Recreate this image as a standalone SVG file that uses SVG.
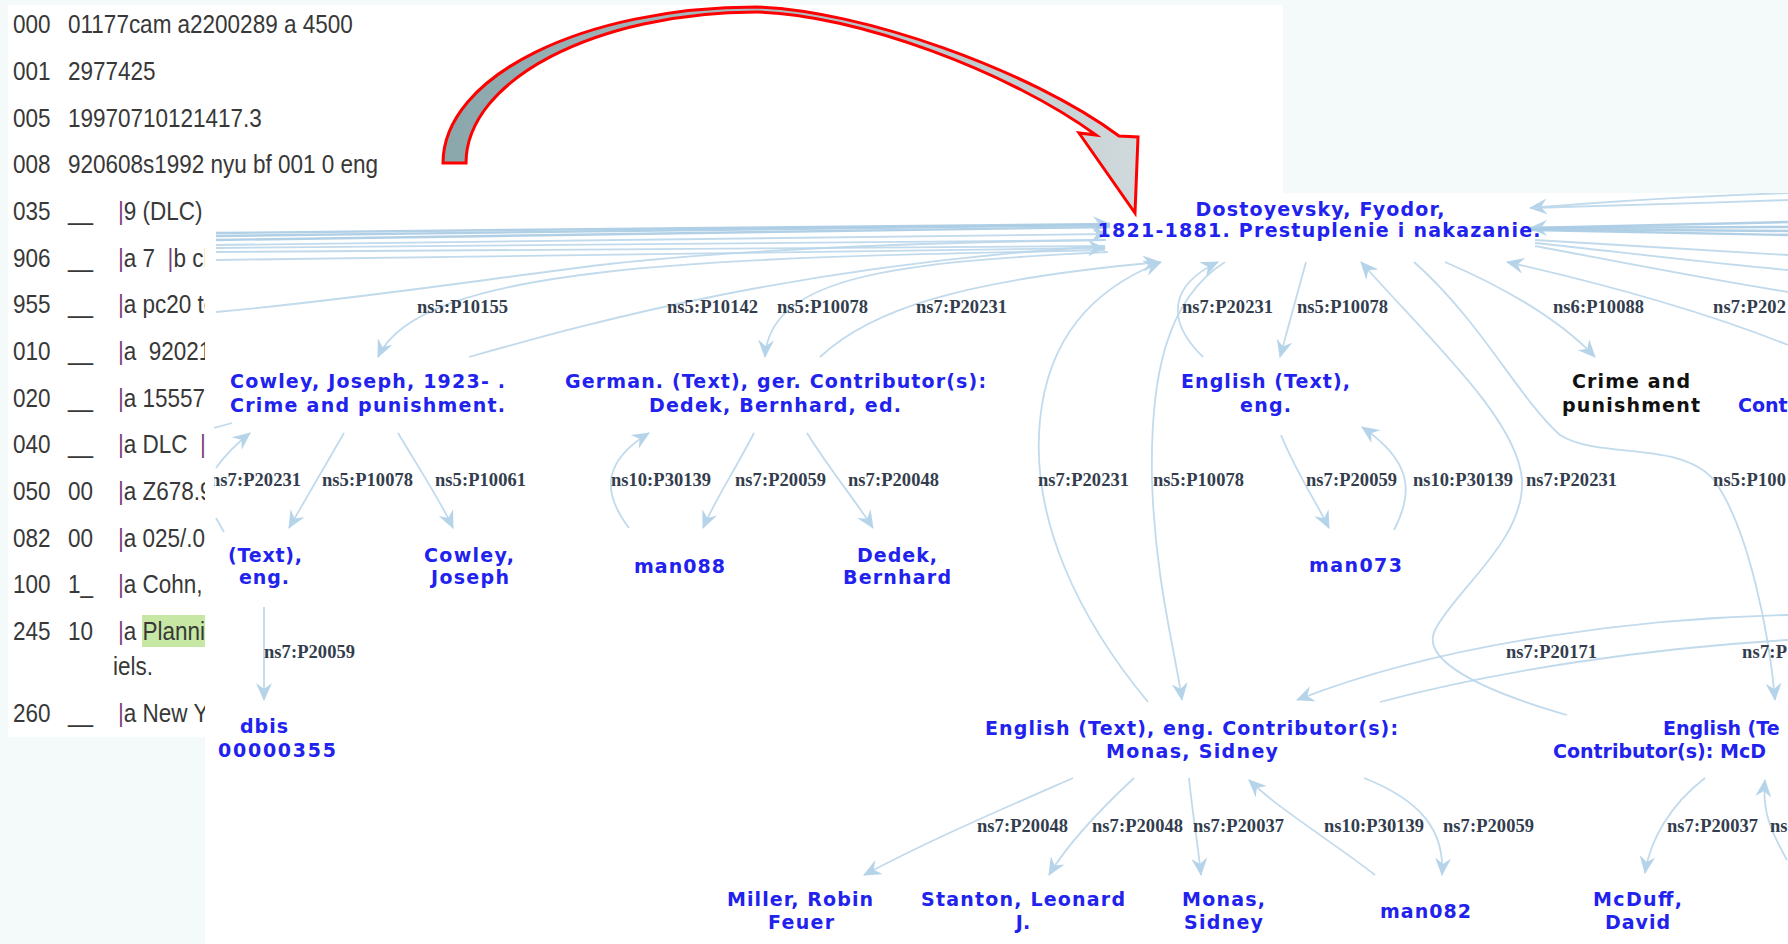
<svg xmlns="http://www.w3.org/2000/svg" width="1788" height="944" viewBox="0 0 1788 944">
<defs>
<style>
.marc{font-family:"Liberation Sans",Arial,sans-serif;font-size:25px;fill:#383838}
.bar{fill:#7b3f7b}
.nd{font-family:"DejaVu Sans","Verdana",sans-serif;font-weight:bold;font-size:19px;fill:#2222ee;text-anchor:middle}
.ndl{font-family:"DejaVu Sans","Verdana",sans-serif;font-weight:bold;font-size:19px;fill:#2222ee}
.blk{fill:#111111}
.el{font-family:"Liberation Serif","Times New Roman",serif;font-weight:bold;font-size:18.5px;fill:#333d4d}
.e{fill:none;stroke:#bad6ea;stroke-width:1.8;stroke-opacity:0.9}
.ea{fill:none;stroke:#bad6ea;stroke-width:1.8;stroke-opacity:0.9;marker-end:url(#ah)}
.eb{fill:none;stroke:#a9cbe3;stroke-width:2.4;stroke-opacity:0.9}
</style>
<marker id="ah" markerUnits="userSpaceOnUse" markerWidth="18" markerHeight="16" viewBox="0 0 18 16" refX="17" refY="8" orient="auto">
<path d="M0,0 L18,8 L0,16 L6,8 Z" fill="#b6d4e9"/>
</marker>
<linearGradient id="rg" x1="443" y1="0" x2="1138" y2="0" gradientUnits="userSpaceOnUse">
<stop offset="0" stop-color="#8aa7ac"/>
<stop offset="1" stop-color="#d0d9db"/>
</linearGradient>
<clipPath id="mclip"><path d="M8,5 H1283 V193 H205 V737 H8 Z"/></clipPath>
<clipPath id="gclip"><rect x="214" y="193" width="1574" height="751"/></clipPath>
</defs>

<rect x="0" y="0" width="1788" height="944" fill="#f4f9fa"/>
<path d="M8,5 H1283 V193 H1788 V944 H205 V737 H8 Z" fill="#ffffff"/>

<g id="marc-record" clip-path="url(#mclip)">
<rect x="142" y="615" width="63" height="32" fill="#c6e8a4"/>
<g transform="scale(0.9,1)">
<text class="marc" x="14.4" y="33">000</text><text class="marc" x="75.6" y="33">01177cam a2200289 a 4500</text>
<text class="marc" x="14.4" y="80">001</text><text class="marc" x="75.6" y="80">2977425</text>
<text class="marc" x="14.4" y="127">005</text><text class="marc" x="75.6" y="127">19970710121417.3</text>
<text class="marc" x="14.4" y="173">008</text><text class="marc" x="75.6" y="173">920608s1992 nyu bf 001 0 eng</text>
<text class="marc" x="14.4" y="220">035</text><text class="marc" x="75.6" y="220">__</text><text class="marc" x="131.1" y="220"><tspan class="bar">|</tspan>9 (DLC)</text>
<text class="marc" x="14.4" y="267">906</text><text class="marc" x="75.6" y="267">__</text><text class="marc" x="131.1" y="267" xml:space="preserve"><tspan class="bar">|</tspan>a 7  <tspan class="bar">|</tspan>b cbc</text>
<text class="marc" x="14.4" y="313">955</text><text class="marc" x="75.6" y="313">__</text><text class="marc" x="131.1" y="313"><tspan class="bar">|</tspan>a pc20 to</text>
<text class="marc" x="14.4" y="360">010</text><text class="marc" x="75.6" y="360">__</text><text class="marc" x="131.1" y="360" xml:space="preserve"><tspan class="bar">|</tspan>a  92021</text>
<text class="marc" x="14.4" y="407">020</text><text class="marc" x="75.6" y="407">__</text><text class="marc" x="131.1" y="407"><tspan class="bar">|</tspan>a 15557</text>
<text class="marc" x="14.4" y="453">040</text><text class="marc" x="75.6" y="453">__</text><text class="marc" x="131.1" y="453" xml:space="preserve"><tspan class="bar">|</tspan>a DLC  <tspan class="bar">|</tspan>c</text>
<text class="marc" x="14.4" y="500">050</text><text class="marc" x="75.6" y="500">00</text><text class="marc" x="131.1" y="500"><tspan class="bar">|</tspan>a Z678.9</text>
<text class="marc" x="14.4" y="547">082</text><text class="marc" x="75.6" y="547">00</text><text class="marc" x="131.1" y="547"><tspan class="bar">|</tspan>a 025/.0</text>
<text class="marc" x="14.4" y="593">100</text><text class="marc" x="75.6" y="593">1_</text><text class="marc" x="131.1" y="593"><tspan class="bar">|</tspan>a Cohn,</text>
<text class="marc" x="14.4" y="640">245</text><text class="marc" x="75.6" y="640">10</text><text class="marc" x="131.1" y="640"><tspan class="bar">|</tspan>a Planni</text>
<text class="marc" x="125.6" y="675">iels.</text>
<text class="marc" x="14.4" y="722">260</text><text class="marc" x="75.6" y="722">__</text><text class="marc" x="131.1" y="722"><tspan class="bar">|</tspan>a New Y</text>
</g>
</g>

<g id="graph" clip-path="url(#gclip)">
<g id="connectors">
<path class="eb" d="M216,233 C600,229 900,226 1110,224" marker-end="url(#ah)"/>
<path class="eb" d="M216,236 C600,231 900,227 1110,225"/>
<path class="eb" d="M216,240 C600,234 900,229 1110,227"/>
<path class="e" d="M216,245 C600,240 900,236 1108,234" marker-end="url(#ah)"/>
<path class="e" d="M216,248 C600,244 900,240 1106,240"/>
<path class="e" d="M216,252 C600,249 900,246 1105,246"/>
<path class="e" d="M216,260 C600,254 900,250 1105,248" marker-end="url(#ah)"/>
<path class="e" d="M216,312 C350,300 480,280 600,265 C750,248 950,242 1105,240"/>
<path class="ea" d="M1105,250 C700,258 420,265 378,357"/>
<path class="e" d="M469,357 C600,320 800,265 1105,246"/>
<path class="ea" d="M1108,252 C900,262 770,275 765,357"/>
<path class="ea" d="M820,357 C870,310 960,280 1160,262"/>
<path class="ea" d="M1306,262 L1280,357"/>
<path class="ea" d="M1203,357 C1165,320 1170,285 1218,262"/>
<path class="ea" d="M1445,262 C1510,290 1560,320 1595,357"/>
<path class="ea" d="M1788,345 C1700,310 1600,283 1507,262"/>
<path class="e" d="M1788,193 C1700,196 1600,202 1530,208" marker-end="url(#ah)"/>
<path class="e" d="M1788,200 C1700,203 1600,206 1530,208"/>
<path class="eb" d="M1788,222 L1530,228"/>
<path class="eb" d="M1788,227 L1530,228" marker-end="url(#ah)"/>
<path class="eb" d="M1788,231 L1530,229"/>
<path class="eb" d="M1788,235 L1530,230"/>
<path class="e" d="M1535,240 C1620,245 1700,250 1788,255"/>
<path class="e" d="M1535,243 C1620,252 1700,262 1788,270"/>
<path class="e" d="M1535,246 C1620,262 1700,278 1788,292"/>
<path class="ea" d="M1567,715 C1480,690 1420,660 1435,630 C1455,590 1525,540 1522,480 C1518,420 1430,340 1361,262"/>
<path class="ea" d="M1414,262 C1480,320 1520,400 1560,435 C1600,460 1680,440 1714,480 C1750,530 1770,640 1775,700"/>
<path class="ea" d="M1225,262 C1165,300 1150,380 1152,480 C1155,580 1175,650 1182,700"/>
<path class="ea" d="M1148,702 C1080,620 1030,520 1040,420 C1048,340 1090,290 1161,262"/>
<path class="ea" d="M1788,615 C1650,618 1450,640 1297,700"/>
<path class="e" d="M1380,702 C1500,670 1650,648 1788,640"/>
<path class="ea" d="M1073,778 C1000,810 930,840 864,875"/>
<path class="ea" d="M1134,778 C1105,805 1070,840 1049,875"/>
<path class="ea" d="M1189,778 C1192,810 1198,845 1201,875"/>
<path class="ea" d="M1375,875 C1330,840 1280,810 1249,780"/>
<path class="ea" d="M1364,778 C1420,800 1445,830 1442,875"/>
<path class="ea" d="M1705,778 C1670,805 1650,840 1645,873"/>
<path class="ea" d="M1787,860 C1770,830 1762,810 1765,780"/>
<path class="ea" d="M344,433 L289,528"/>
<path class="ea" d="M398,433 C420,470 440,500 453,528"/>
<path class="ea" d="M216,468 C225,455 235,445 250,433"/>
<path class="e" d="M214,428 L232,423"/>
<path class="e" d="M216,518 L224,532"/>
<path class="ea" d="M754,433 C735,470 715,500 703,528"/>
<path class="ea" d="M807,433 C830,470 855,500 873,528"/>
<path class="ea" d="M629,528 C600,490 605,460 649,433"/>
<path class="ea" d="M1281,435 C1295,470 1315,500 1329,528"/>
<path class="ea" d="M1394,530 C1415,490 1410,460 1362,427"/>
<path class="ea" d="M264,607 L264,700"/>
</g>

<g id="edge-labels">
<text class="el" x="417" y="313" textLength="91">ns5:P10155</text>
<text class="el" x="667" y="313" textLength="91">ns5:P10142</text>
<text class="el" x="777" y="313" textLength="91">ns5:P10078</text>
<text class="el" x="916" y="313" textLength="91">ns7:P20231</text>
<text class="el" x="1182" y="313" textLength="91">ns7:P20231</text>
<text class="el" x="1297" y="313" textLength="91">ns5:P10078</text>
<text class="el" x="1553" y="313" textLength="91">ns6:P10088</text>
<text class="el" x="1713" y="313" textLength="73">ns7:P202</text>
<text class="el" x="210" y="486" textLength="91">ns7:P20231</text>
<text class="el" x="322" y="486" textLength="91">ns5:P10078</text>
<text class="el" x="435" y="486" textLength="91">ns5:P10061</text>
<text class="el" x="611" y="486" textLength="100">ns10:P30139</text>
<text class="el" x="735" y="486" textLength="91">ns7:P20059</text>
<text class="el" x="848" y="486" textLength="91">ns7:P20048</text>
<text class="el" x="1038" y="486" textLength="91">ns7:P20231</text>
<text class="el" x="1153" y="486" textLength="91">ns5:P10078</text>
<text class="el" x="1306" y="486" textLength="91">ns7:P20059</text>
<text class="el" x="1413" y="486" textLength="100">ns10:P30139</text>
<text class="el" x="1526" y="486" textLength="91">ns7:P20231</text>
<text class="el" x="1713" y="486" textLength="73">ns5:P100</text>
<text class="el" x="264" y="658" textLength="91">ns7:P20059</text>
<text class="el" x="1506" y="658" textLength="91">ns7:P20171</text>
<text class="el" x="1742" y="658" textLength="45">ns7:P</text>
<text class="el" x="977" y="832" textLength="91">ns7:P20048</text>
<text class="el" x="1092" y="832" textLength="91">ns7:P20048</text>
<text class="el" x="1193" y="832" textLength="91">ns7:P20037</text>
<text class="el" x="1324" y="832" textLength="100">ns10:P30139</text>
<text class="el" x="1443" y="832" textLength="91">ns7:P20059</text>
<text class="el" x="1667" y="832" textLength="91">ns7:P20037</text>
<text class="el" x="1770" y="832">ns</text>
</g>

<g id="node-dostoyevsky">
<text class="nd" x="1320" y="216" textLength="249" lengthAdjust="spacing">Dostoyevsky, Fyodor,</text>
<text class="nd" x="1319" y="237" textLength="443" lengthAdjust="spacing">1821-1881. Prestuplenie i nakazanie.</text>
</g>
<g id="node-cowley-crime">
<text class="nd" x="367.5" y="388" textLength="275" lengthAdjust="spacing">Cowley, Joseph, 1923- .</text>
<text class="nd" x="367.5" y="412" textLength="275" lengthAdjust="spacing">Crime and punishment.</text>
</g>
<g id="node-german">
<text class="nd" x="775.5" y="388" textLength="421" lengthAdjust="spacing">German. (Text), ger. Contributor(s):</text>
<text class="nd" x="775" y="412" textLength="252" lengthAdjust="spacing">Dedek, Bernhard, ed.</text>
</g>
<g id="node-english">
<text class="nd" x="1265.5" y="388" textLength="169" lengthAdjust="spacing">English (Text),</text>
<text class="nd" x="1265.5" y="412" textLength="51" lengthAdjust="spacing">eng.</text>
</g>
<g id="node-crime">
<text class="nd blk" x="1631" y="388" textLength="118" lengthAdjust="spacing">Crime and</text>
<text class="nd blk" x="1631" y="412" textLength="138" lengthAdjust="spacing">punishment</text>
</g>
<g id="node-cont">
<text class="ndl" x="1738" y="412">Cont</text>
</g>
<g id="node-text-eng">
<text class="nd" x="265" y="562" textLength="74" lengthAdjust="spacing">(Text),</text>
<text class="nd" x="264" y="584" textLength="50" lengthAdjust="spacing">eng.</text>
</g>
<g id="node-cowley-joseph">
<text class="nd" x="469" y="562" textLength="90" lengthAdjust="spacing">Cowley,</text>
<text class="nd" x="470" y="584" textLength="78" lengthAdjust="spacing">Joseph</text>
</g>
<g id="node-man088">
<text class="nd" x="679.5" y="573" textLength="91" lengthAdjust="spacing">man088</text>
</g>
<g id="node-dedek">
<text class="nd" x="897" y="562" textLength="80" lengthAdjust="spacing">Dedek,</text>
<text class="nd" x="897" y="584" textLength="108" lengthAdjust="spacing">Bernhard</text>
</g>
<g id="node-man073">
<text class="nd" x="1355.5" y="572" textLength="93" lengthAdjust="spacing">man073</text>
</g>
<g id="node-dbis">
<text class="nd" x="264" y="733" textLength="48" lengthAdjust="spacing">dbis</text>
<text class="ndl" x="218" y="757" textLength="118" lengthAdjust="spacing">00000355</text>
</g>
<g id="node-monas-work">
<text class="nd" x="1191.5" y="735" textLength="413" lengthAdjust="spacing">English (Text), eng. Contributor(s):</text>
<text class="nd" x="1192" y="758" textLength="172" lengthAdjust="spacing">Monas, Sidney</text>
</g>
<g id="node-mcduff-work">
<text class="ndl" x="1663" y="735">English (Te</text>
<text class="ndl" x="1553" y="758">Contributor(s): McD</text>
</g>
<g id="node-miller">
<text class="nd" x="800" y="906" textLength="146" lengthAdjust="spacing">Miller, Robin</text>
<text class="nd" x="801" y="929" textLength="66" lengthAdjust="spacing">Feuer</text>
</g>
<g id="node-stanton">
<text class="nd" x="1023" y="906" textLength="204" lengthAdjust="spacing">Stanton, Leonard</text>
<text class="nd" x="1023" y="929">J.</text>
</g>
<g id="node-monas">
<text class="nd" x="1223.5" y="906" textLength="83" lengthAdjust="spacing">Monas,</text>
<text class="nd" x="1223.5" y="929" textLength="79" lengthAdjust="spacing">Sidney</text>
</g>
<g id="node-man082">
<text class="nd" x="1425.5" y="918" textLength="91" lengthAdjust="spacing">man082</text>
</g>
<g id="node-mcduff">
<text class="nd" x="1637.5" y="906" textLength="89" lengthAdjust="spacing">McDuff,</text>
<text class="nd" x="1637.5" y="929" textLength="65" lengthAdjust="spacing">David</text>
</g>
</g>

<g id="red-arrow">
<path d="M443,163 C443,76 584,7 757,7 C860,10 1030,70 1119,136 L1138,137 L1135,213 L1079,133 L1096,135 C1010,72 855,14 757,12 C596,12 466,80 466,163 Z" fill="url(#rg)" stroke="#ff0000" stroke-width="3" stroke-linejoin="miter"/>
</g>
</svg>
